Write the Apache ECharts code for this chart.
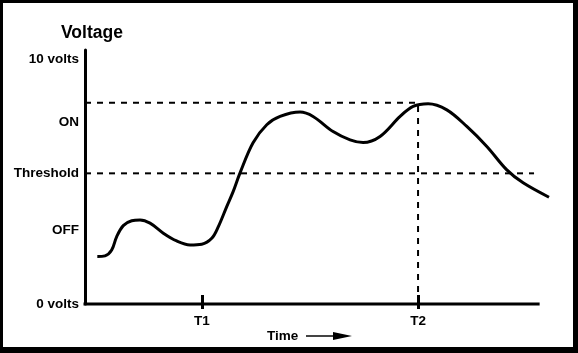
<!DOCTYPE html>
<html>
<head>
<meta charset="utf-8">
<script src="https://cdn.jsdelivr.net/npm/echarts@6/dist/echarts.min.js"></script>
<style>
  html, body { margin: 0; padding: 0; background: #fff; }
  #chart { width: 578px; height: 353px; }
</style>
</head>
<body>
<div id="chart"></div>
<script>
// ---- Data (time in arbitrary units 0..100, voltage in volts) ----
const timeValues = [2.72, 4.42, 5.89, 7.0, 8.45, 10.31, 12.14, 14.35, 17.28, 20.24, 23.18, 25.76, 27.97, 29.43, 31.28, 32.67, 34.22, 37.09, 40.11, 43.05, 47.46, 50.33, 54.75, 58.5, 61.37, 65.12, 69.54, 72.41, 75.72, 79.85, 84.26, 88.68, 93.09, 96.69, 102.4];
const voltValues = [1.94, 1.97, 2.21, 2.76, 3.21, 3.41, 3.44, 3.31, 2.90, 2.58, 2.42, 2.45, 2.69, 3.17, 3.99, 4.59, 5.37, 6.60, 7.34, 7.68, 7.86, 7.68, 7.06, 6.72, 6.61, 6.86, 7.68, 8.09, 8.20, 7.95, 7.27, 6.45, 5.49, 4.96, 4.37];

const yLabelValues = [0, 3.03, 5.37, 7.42, 10];
const yLabelNames = ['0 volts', 'OFF', 'Threshold', 'ON', '10 volts'];

const xTickValues = [25.8, 73.5];
const xTickNames = ['T1', 'T2'];

const xAxisEnd = 100;
const onLevel = 8.24;
const thresholdLevel = 5.35;
const thresholdEnd = 99.1;
const T2 = xTickValues[1];

const FONT = '"Liberation Sans", Arial, sans-serif';

function nameFor(values, names, v) {
  let best = 0, d = Infinity;
  values.forEach((x, i) => { if (Math.abs(x - v) < d) { d = Math.abs(x - v); best = i; } });
  return names[best];
}

const chart = echarts.init(document.getElementById('chart'), null, { renderer: 'canvas' });

const dashStyle = { color: '#000', width: 2, type: [6, 6] };

chart.setOption({
  animation: false,
  backgroundColor: '#fff',
  title: {
    text: 'Voltage',
    left: 61, top: 24, padding: 0,
    textStyle: { fontFamily: FONT, fontSize: 17.5, fontWeight: 'bold', color: '#000' }
  },
  grid: { left: 85, right: 29, top: 50, bottom: 49, containLabel: false },
  xAxis: [{
    type: 'value', min: 0, max: 102.4,
    axisLine: { show: false },
    splitLine: { show: false },
    axisTick: { show: true, customValues: xTickValues, length: 5, lineStyle: { color: '#000', width: 3 } },
    axisLabel: {
      show: true, customValues: xTickValues, margin: 10,
      fontFamily: FONT, fontSize: 13.5, fontWeight: 'bold', color: '#000',
      formatter: v => nameFor(xTickValues, xTickNames, v)
    }
  }, {
    type: 'value', min: 0, max: 102.4, position: 'bottom',
    axisLine: { show: false },
    splitLine: { show: false },
    axisTick: { show: true, inside: true, customValues: xTickValues, length: 9, lineStyle: { color: '#000', width: 3 } },
    axisLabel: { show: false }
  }],
  yAxis: {
    type: 'value', min: 0, max: 10.4,
    axisLine: { show: true, lineStyle: { color: '#000', width: 3 } },
    splitLine: { show: false },
    axisTick: { show: false },
    axisLabel: {
      show: true, customValues: yLabelValues, margin: 6,
      fontFamily: FONT, fontSize: 13.5, fontWeight: 'bold', color: '#000',
      formatter: v => nameFor(yLabelValues, yLabelNames, v)
    }
  },
  series: [
    {
      name: 'on', type: 'line', symbol: 'none', silent: true,
      data: [[0, onLevel], [T2, onLevel]],
      lineStyle: dashStyle
    },
    {
      name: 'threshold', type: 'line', symbol: 'none', silent: true,
      data: [[0, thresholdLevel], [thresholdEnd, thresholdLevel]],
      lineStyle: dashStyle
    },
    {
      name: 't2', type: 'line', symbol: 'none', silent: true,
      data: [[T2, 0], [T2, onLevel]],
      lineStyle: dashStyle
    },
    {
      name: 'baseline', type: 'line', symbol: 'none', silent: true, clip: false,
      data: [[0, 0], [xAxisEnd, 0]],
      lineStyle: { color: '#000', width: 3, cap: 'square' }
    },
    {
      name: 'voltage', type: 'line', symbol: 'none', smooth: 0.35, clip: false,
      data: timeValues.map((t, i) => [t, voltValues[i]]),
      lineStyle: { color: '#000', width: 3 }
    }
  ],
  graphic: [
    { type: 'text', left: 267, top: 329, style: { text: 'Time', font: 'bold 13.5px ' + FONT, fill: '#000' } },
    { type: 'line', shape: { x1: 306, y1: 336, x2: 336, y2: 336 }, style: { stroke: '#444', lineWidth: 2 } },
    { type: 'polygon', shape: { points: [[333, 332], [352, 336], [333, 340]] }, style: { fill: '#000' } },
    { type: 'rect', shape: { x: 0, y: 0, width: 3, height: 353 }, style: { fill: '#000' }, z: 100 },
    { type: 'rect', shape: { x: 0, y: 0, width: 578, height: 3 }, style: { fill: '#000' }, z: 100 },
    { type: 'rect', shape: { x: 573, y: 0, width: 5, height: 353 }, style: { fill: '#000' }, z: 100 },
    { type: 'rect', shape: { x: 0, y: 347, width: 578, height: 6 }, style: { fill: '#000' }, z: 100 }
  ]
});
</script>
</body>
</html>
